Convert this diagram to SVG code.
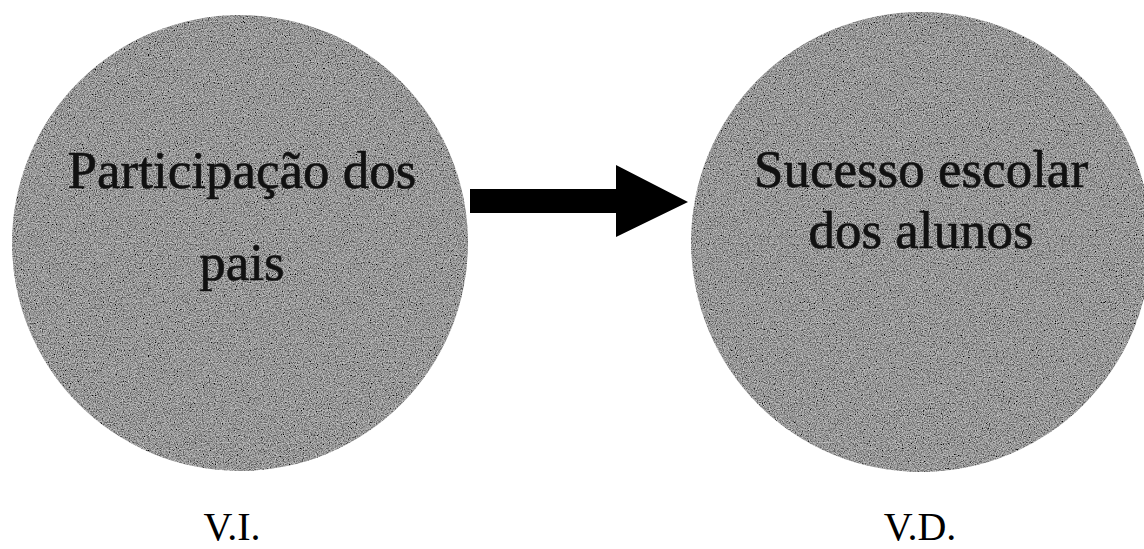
<svg xmlns="http://www.w3.org/2000/svg" width="1144" height="549" viewBox="0 0 1144 549">
<style>
.node{fill:#8a8a8a;filter:url(#grain)}
.lbl{font-family:"Liberation Serif","Times New Roman",serif;font-size:53px;fill:#111;stroke:#111;stroke-width:0.6;text-anchor:middle}
.cap{font-family:"Liberation Serif","Times New Roman",serif;font-size:40px;fill:#000;text-anchor:middle}
.arrow{fill:#000}
</style>
<defs>
<filter id="grain" x="0" y="0" width="100%" height="100%">
<feTurbulence type="fractalNoise" baseFrequency="0.85" numOctaves="2" seed="4" result="n"/>
<feColorMatrix in="n" type="saturate" values="0" result="g"/>
<feComponentTransfer in="g" result="c">
<feFuncR type="linear" slope="1.3" intercept="-0.34"/>
<feFuncG type="linear" slope="1.3" intercept="-0.34"/>
<feFuncB type="linear" slope="1.3" intercept="-0.34"/>
<feFuncA type="linear" slope="0" intercept="1"/>
</feComponentTransfer>
<feComposite in="c" in2="SourceGraphic" operator="in"/>
</filter>
</defs>
<rect width="1144" height="549" fill="#fff"/>
<g id="node-vi">
<circle class="node" cx="240" cy="243" r="228"/>
<text class="lbl" x="242" y="188">Participação dos</text>
<text class="lbl" x="242" y="280">pais</text>
</g>
<g id="node-vd">
<circle class="node" cx="921" cy="242" r="230"/>
<text class="lbl" x="921" y="187">Sucesso escolar</text>
<text class="lbl" x="921" y="248">dos alunos</text>
</g>
<g id="connectors">
<polygon class="arrow" points="470,189 616,189 616,165 688,202 616,237 616,213 470,213"/>
</g>
<g id="captions">
<text class="cap" x="232" y="540">V.I.</text>
<text class="cap" x="920" y="540">V.D.</text>
</g>
</svg>
